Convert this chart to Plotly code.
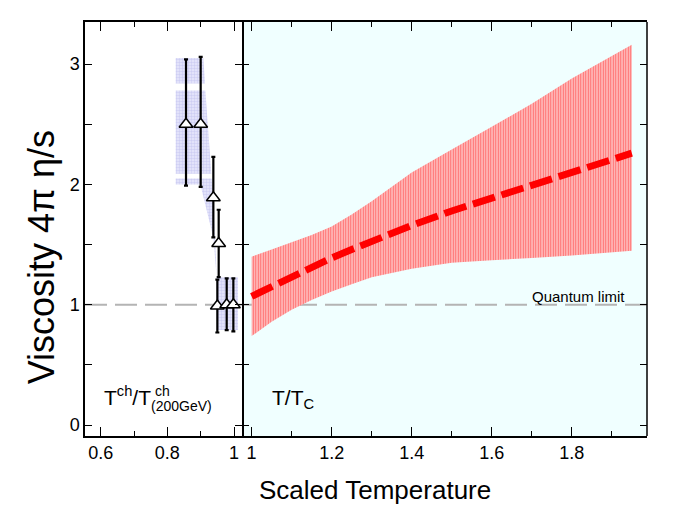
import plotly.graph_objects as go

# chemical freeze-out points (left panel)
chem_x = [0.856, 0.900, 0.938, 0.954, 0.950, 0.978, 0.998]
chem_y = [2.50, 2.50, 1.89, 1.51, 0.99, 1.00, 1.00]
chem_hi = [3.04, 3.06, 2.23, 1.79, 1.21, 1.22, 1.22]
chem_lo = [1.99, 1.98, 1.56, 1.23, 0.77, 0.79, 0.78]

# blue systematic band (separate pieces split by None)
band_x = [0.825, 0.908, 0.913, 0.825, None,
          0.825, 0.914, 0.932, 0.825, None,
          0.825, 0.933, 0.938, 0.948, 0.938, 0.899, 0.825, None,
          0.948, 1.012, 1.012, 0.948]
band_y = [3.05, 3.05, 2.84, 2.84, None,
          2.78, 2.78, 2.09, 2.09, None,
          2.05, 2.05, 1.86, 1.23, 1.56, 2.00, 2.00, None,
          1.23, 1.23, 0.79, 0.79]

# QGP band and central curve (right panel)
tt_x = [1.0, 1.05, 1.1, 1.15, 1.2, 1.25, 1.3, 1.4, 1.5, 1.6, 1.7, 1.8, 1.95]
tt_hi = [1.40, 1.46, 1.52, 1.58, 1.65, 1.75, 1.86, 2.10, 2.29, 2.48, 2.67, 2.88, 3.16]
tt_lo = [0.74, 0.86, 0.96, 1.04, 1.11, 1.17, 1.23, 1.30, 1.35, 1.37, 1.39, 1.41, 1.45]
tt_mid = [1.07, 1.15, 1.24, 1.31, 1.39, 1.46, 1.53, 1.66, 1.78, 1.89, 2.00, 2.10, 2.26]

quantum_limit = 1.0

y_ticks = [0, 0.5, 1, 1.5, 2, 2.5, 3]
y_text = ['0', '', '1', '', '2', '', '3']
left_ticks = [0.6, 0.8, 1.0]
left_text = ['0.6', '0.8', '1']
right_ticks = [1.0, 1.2, 1.4, 1.6, 1.8]
right_text = ['1', '1.2', '1.4', '1.6', '1.8']

FONT = 'Liberation Sans, Arial, sans-serif'
split = 0.2794

fig = go.Figure()

fig.add_trace(go.Scatter(
    x=band_x, y=band_y, mode='none', fill='toself',
    fillcolor='rgba(210,210,248,0.8)',
    fillpattern=dict(shape='.', fgcolor='#b4b4ec', bgcolor='#e8e8fb', size=3, solidity=0.5),
    hoverinfo='skip', xaxis='x', yaxis='y'))

fig.add_trace(go.Scatter(
    x=chem_x, y=chem_y, mode='markers',
    marker=dict(symbol='triangle-up', size=12, color='white',
                line=dict(color='black', width=1.5)),
    error_y=dict(type='data', symmetric=False,
                 array=[h - y for h, y in zip(chem_hi, chem_y)],
                 arrayminus=[y - l for l, y in zip(chem_lo, chem_y)],
                 color='black', thickness=2.2, width=2),
    xaxis='x', yaxis='y'))

fig.add_trace(go.Scatter(
    x=tt_x + tt_x[::-1], y=tt_lo + tt_hi[::-1], mode='none', fill='toself',
    fillcolor='rgba(255,160,160,0.8)',
    fillpattern=dict(shape='|', fgcolor='#ff1a1a', bgcolor='#ffbcbc', size=2.5, solidity=0.4),
    hoverinfo='skip', xaxis='x2', yaxis='y2'))

fig.add_trace(go.Scatter(
    x=tt_x, y=tt_mid, mode='lines',
    line=dict(color='red', width=7, dash='23px,7px'),
    xaxis='x2', yaxis='y2'))

axis_common = dict(showgrid=False, zeroline=False, showline=True, linecolor='black',
                   linewidth=1.5, ticks='inside', tickcolor='black', tickwidth=1.2,
                   mirror='ticks', tickfont=dict(family=FONT, size=18, color='black'))

# the page body adds 8px, so margins are shifted up/left by that amount
fig.update_layout(
    width=692, height=520,
    margin=dict(l=77, r=53, t=12, b=92),
    paper_bgcolor='white', plot_bgcolor='white',
    showlegend=False,
    font=dict(family=FONT, color='black'),
    xaxis=dict(axis_common, domain=[0, split], range=[0.553, 1.024],
               tickmode='array', tickvals=left_ticks, ticktext=left_text, ticklen=9,
               minor=dict(tickvals=[0.7, 0.9], ticklen=5, ticks='inside', tickcolor='black'),
               anchor='y'),
    xaxis2=dict(axis_common, domain=[split, 1], range=[0.976, 1.988],
                tickmode='array', tickvals=right_ticks, ticktext=right_text, ticklen=9,
                minor=dict(tickvals=[1.1, 1.3, 1.5, 1.7, 1.9], ticklen=5, ticks='inside',
                           tickcolor='black'),
                anchor='y2'),
    yaxis=dict(axis_common, range=[-0.09, 3.35], tickmode='array',
               tickvals=y_ticks, ticktext=y_text, ticklen=7, anchor='x'),
    yaxis2=dict(axis_common, range=[-0.09, 3.35], tickmode='array',
                tickvals=y_ticks, ticktext=y_text, ticklen=7, anchor='x2',
                matches='y', showticklabels=False, showline=False),
)

fig.add_shape(type='rect', xref='x2 domain', yref='y2 domain', x0=0, x1=1, y0=0, y1=1,
              fillcolor='#f0ffff', line=dict(width=0), layer='below')
fig.add_shape(type='line', xref='paper', yref='y', x0=0, x1=1,
              y0=quantum_limit, y1=quantum_limit,
              line=dict(color='#b4b4b4', width=2, dash='22px,8px'), layer='below')
# right edge of the frame
fig.add_shape(type='line', xref='x2 domain', yref='y2 domain', x0=1, x1=1, y0=0, y1=1,
              line=dict(color='black', width=1.5))

fig.add_annotation(text='Quantum limit', xref='x2', yref='y2', x=1.938, y=1.07,
                   xanchor='right', yanchor='middle', showarrow=False,
                   font=dict(family=FONT, size=15, color='black'))
fig.add_annotation(text='T/T<sub>C</sub>', xref='x2', yref='y2', x=1.046, y=0.22,
                   xanchor='left', yanchor='middle', showarrow=False,
                   font=dict(family=FONT, size=21, color='black'))
fig.add_annotation(text='T<sup>ch</sup>/T', xref='x', yref='y', x=0.603, y=0.24,
                   xanchor='left', yanchor='middle', showarrow=False,
                   font=dict(family=FONT, size=21, color='black'))
fig.add_annotation(text='ch', xref='x', yref='y', x=0.756, y=0.28,
                   xanchor='left', yanchor='middle', showarrow=False,
                   font=dict(family=FONT, size=14, color='black'))
fig.add_annotation(text='(200GeV)', xref='x', yref='y', x=0.745, y=0.16,
                   xanchor='left', yanchor='middle', showarrow=False,
                   font=dict(family=FONT, size=14, color='black'))

fig.add_annotation(text='Viscosity 4\u03c0 \u03b7/s', xref='paper', yref='paper',
                   x=-0.077, y=0.431, xanchor='center', yanchor='middle', textangle=-90,
                   showarrow=False, font=dict(family=FONT, size=36, color='black'))
fig.add_annotation(text='Scaled Temperature', xref='paper', yref='paper',
                   x=0.516, y=-0.13, xanchor='center', yanchor='middle',
                   showarrow=False, font=dict(family=FONT, size=26, color='black'))

fig.write_html('out.html')
